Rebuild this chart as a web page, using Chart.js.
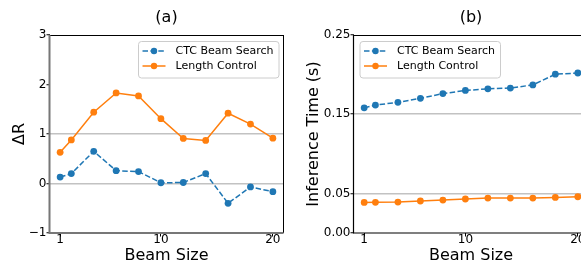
<!DOCTYPE html>
<html lang="en">
<head>
  <meta charset="UTF-8">
  <title>Beam size</title>
  <script src="https://cdn.jsdelivr.net/npm/chart.js"></script>
</head>
<body>
  <div id="wrap">
    <div class="panel" style="left: 0px; width: 290px;"><canvas id="chart-a" width="290" height="264"></canvas></div>
    <div class="panel" style="left: 290px; width: 305px;"><canvas id="chart-b" width="305" height="264"></canvas></div>
  </div>

<style>
html, body { margin: 0; padding: 0; background: #fff; overflow: hidden; }
#wrap { position: relative; width: 581px; height: 264px; overflow: hidden; }
.panel { position: absolute; top: 0; height: 264px; }
</style>

  <script>
    // values
    const beamSizes = [1, 2, 4, 6, 8, 10, 12, 14, 16, 18, 20];
    const ctcDeltaR = [0.13, 0.20, 0.65, 0.26, 0.24, 0.015, 0.02, 0.20, -0.40, -0.07, -0.165];
    const lenDeltaR = [0.63, 0.88, 1.44, 1.83, 1.77, 1.31, 0.91, 0.87, 1.42, 1.20, 0.915];
    const ctcTime = [0.158, 0.1615, 0.165, 0.170, 0.176, 0.180, 0.182, 0.183, 0.187, 0.2005, 0.202];
    const lenTime = [0.0386, 0.0387, 0.0391, 0.0404, 0.0416, 0.0429, 0.0441, 0.0441, 0.0441, 0.0449, 0.0458];
    const xTicks = [1, 10, 20];
    const deltaTicks = [-1, 0, 1, 2, 3];
    const deltaGrid = [0, 1];
    const timeTicks = [0, 0.05, 0.15, 0.25];
    const timeGrid = [0.05, 0.15];
    const seriesNames = ['CTC Beam Search', 'Length Control'];

    const FONT = '"DejaVu Sans", sans-serif';
    const BLUE = '#1f77b4';
    const ORANGE = '#ff7f0e';

    function pts(ys) {
      return beamSizes.map((x, i) => ({ x: x, y: ys[i] }));
    }

    // box, title and legend drawn on top (matplotlib look)
    const frame = {
      id: 'frame',
      afterDraw(chart, args, opts) {
        const ctx = chart.ctx;
        const a = chart.chartArea;
        ctx.save();
        // spines
        ctx.lineCap = 'butt';
        ctx.strokeStyle = opts.topColor;
        ctx.lineWidth = 1;
        ctx.beginPath();
        ctx.moveTo(a.left, a.top + 0.5);
        ctx.lineTo(a.right, a.top + 0.5);
        ctx.moveTo(a.right, a.top);
        ctx.lineTo(a.right, a.bottom);
        ctx.stroke();
        ctx.strokeStyle = opts.sideColor;
        ctx.lineWidth = opts.sideWidth;
        ctx.beginPath();
        ctx.moveTo(a.left, a.top);
        ctx.lineTo(a.left, a.bottom);
        ctx.lineTo(a.right, a.bottom);
        ctx.stroke();

        // title
        ctx.fillStyle = '#000';
        ctx.font = '16px ' + FONT;
        ctx.textAlign = 'center';
        ctx.textBaseline = 'middle';
        ctx.fillText(opts.title, (a.left + a.right) / 2, 18);

        // legend
        ctx.font = '11px ' + FONT;
        const sets = chart.data.datasets;
        const tw = Math.max(...sets.map(d => ctx.measureText(d.label).width));
        const w = 4.5 + 23 + 10 + tw + 5;
        const h = 36.5;
        const bx = opts.legendSide === 'right' ? a.right - 5 - w : a.left + 6;
        const by = a.top + 6;
        ctx.beginPath();
        ctx.roundRect(bx + 0.5, by + 0.5, w, h, 3);
        ctx.fillStyle = 'rgba(255,255,255,0.8)';
        ctx.fill();
        ctx.strokeStyle = '#cccccc';
        ctx.lineWidth = 1;
        ctx.stroke();
        sets.forEach((d, i) => {
          const cy = by + 10 + i * 15;
          const lx = bx + 4.5;
          ctx.strokeStyle = d.borderColor;
          ctx.lineWidth = 1.5;
          ctx.setLineDash(d.borderDash || []);
          ctx.beginPath();
          ctx.moveTo(lx, cy);
          ctx.lineTo(lx + 23, cy);
          ctx.stroke();
          ctx.setLineDash([]);
          ctx.fillStyle = d.borderColor;
          ctx.beginPath();
          ctx.arc(lx + 11.5, cy, 3.2, 0, Math.PI * 2);
          ctx.fill();
          ctx.fillStyle = '#000';
          ctx.textAlign = 'left';
          ctx.textBaseline = 'middle';
          ctx.fillText(d.label, lx + 33, cy);
        });
        ctx.restore();
      }
    };

    function makeChart(id, cfg) {
      const ctx = document.getElementById(id).getContext('2d');
      return new Chart(ctx, {
        type: 'line',
        data: {
          datasets: [
            {
              label: seriesNames[0],
              data: pts(cfg.ctc),
              borderColor: BLUE,
              backgroundColor: BLUE,
              borderDash: [5.5, 2.4],
              borderWidth: 1.5,
              pointRadius: 3.4,
              pointBorderWidth: 0,
              fill: false
            },
            {
              label: seriesNames[1],
              data: pts(cfg.len),
              borderColor: ORANGE,
              backgroundColor: ORANGE,
              borderWidth: 1.5,
              pointRadius: 3.4,
              pointBorderWidth: 0,
              fill: false
            }
          ]
        },
        options: {
          responsive: false,
          animation: false,
          events: [],
          layout: { padding: { left: 0, right: 6.5, top: 35, bottom: 0 } },
          plugins: {
            legend: { display: false },
            tooltip: { enabled: false },
            frame: {
              title: cfg.title,
              legendSide: cfg.legendSide,
              topColor: '#000',
              sideColor: cfg.sideColor,
              sideWidth: cfg.sideWidth
            }
          },
          scales: {
            x: {
              type: 'linear',
              min: 0.05,
              max: 20.95,
              afterBuildTicks: s => { s.ticks = xTicks.map(v => ({ value: v })); },
              afterFit: s => { s.height = 31; },
              grid: { drawOnChartArea: false, tickLength: 3.5, color: '#000', tickWidth: 1 },
              border: { display: false },
              ticks: { color: '#000', padding: -2.5, maxRotation: 0, font: { family: FONT, size: 12, lineHeight: 1 } },
              title: { display: true, text: 'Beam Size', color: '#000', padding: { top: 1, bottom: 0 }, font: { family: FONT, size: 16, lineHeight: 1 } }
            },
            y: {
              min: cfg.yMin,
              max: cfg.yMax,
              afterBuildTicks: s => { s.ticks = cfg.yTicks.map(v => ({ value: v })); },
              afterFit: s => { s.width = cfg.yWidth; },
              grid: {
                color: c => (c.tick && cfg.yGrid.includes(c.tick.value)) ? '#c2c2c2' : 'rgba(0,0,0,0)',
                tickColor: '#000',
                lineWidth: 1.5,
                tickWidth: 1,
                tickLength: 3
              },
              border: { display: false },
              ticks: {
                color: '#000',
                padding: 0,
                font: { family: FONT, size: 12, lineHeight: 1 },
                callback: cfg.fmt
              },
              title: { display: true, text: cfg.yTitle, color: '#000', padding: { top: cfg.yTitlePad, bottom: 0 }, font: { family: FONT, size: 16, lineHeight: 1 } }
            }
          }
        },
        plugins: [frame]
      });
    }

    makeChart('chart-a', {
      title: '(a)',
      ctc: ctcDeltaR,
      len: lenDeltaR,
      yMin: -1, yMax: 3,
      yTicks: deltaTicks,
      yGrid: deltaGrid,
      yWidth: 49.5,
      yTitle: 'ΔR',
      yTitlePad: 12,
      fmt: v => (v < 0 ? '\u2212' + Math.abs(v) : String(v)),
      legendSide: 'right',
      sideColor: '#777',
      sideWidth: 2
    });

    makeChart('chart-b', {
      title: '(b)',
      ctc: ctcTime,
      len: lenTime,
      yMin: 0, yMax: 0.25,
      yTicks: timeTicks,
      yGrid: timeGrid,
      yWidth: 63.5,
      yTitle: 'Inference Time (s)',
      yTitlePad: 16,
      fmt: v => v.toFixed(2),
      legendSide: 'left',
      sideColor: '#000',
      sideWidth: 1.2
    });
  </script>
</body>
</html>
